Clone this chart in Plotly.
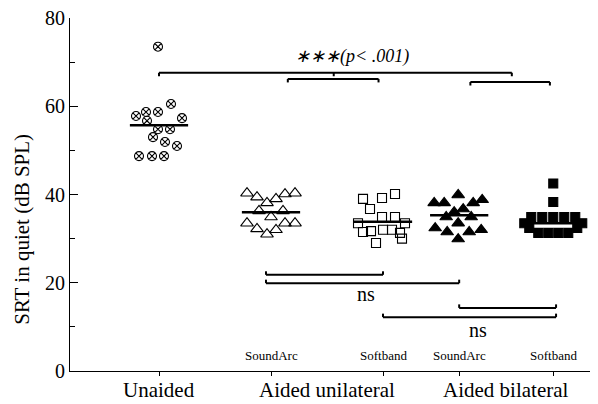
import plotly.graph_objects as go

# ---------------- data ----------------
group_names = ["Unaided", "SoundArc (unilateral)", "Softband (unilateral)",
               "SoundArc (bilateral)", "Softband (bilateral)"]
sub_labels = ["", "SoundArc", "Softband", "SoundArc", "Softband"]
category_labels = ["Unaided", "Aided unilateral", "Aided bilateral"]

unaided = [73.5, 57.8, 58.7, 58.7, 60.5, 56.7, 57.3, 54.8, 54.8, 53.0, 51.9, 51.0, 48.7, 48.7, 48.7]
soundarc_uni = [40.3, 39.4, 38.1, 39.0, 40.1, 40.3, 36.3, 36.3, 34.9, 33.5, 32.2, 31.0, 32.0, 33.5, 33.5]
softband_uni = [39.0, 39.2, 40.1, 36.7, 34.9, 34.9, 33.5, 33.5, 31.5, 31.7, 32.0, 32.0, 31.3, 29.0, 30.0]
soundarc_bil = [38.1, 38.1, 39.9, 38.1, 38.8, 36.0, 36.7, 34.9, 34.9, 33.5, 32.4, 31.5, 29.9, 31.5, 32.0]
softband_bil = [42.5, 38.3, 34.9, 34.9, 34.9, 34.9, 34.9, 33.5, 33.5, 32.4, 32.4, 31.3, 31.3, 31.3, 31.3]
group_means = [55.7, 36.0, 33.8, 35.3, 33.5]

# horizontal scatter of the points (beeswarm spread, in pixels at the reference scale)
jitter_px = [
    [-1, -23, -13, -1, 12, -12, 23, -1, 11, -6, 6, 18, -20, -7, 5],
    [-24, -14, -4, 5, 14, 24, -12, 12, 0, -24, -14, -4, 5, 14, 24],
    [-20, -1, 12, -13, -1, 12, -25, 22, -20, -12, 0, 9, 17, -7, 19],
    [-25, -15, -1, 14, 23, -5, 4, -13, 12, -1, -24, -12, -1, 10, 22],
    [0, 0, -22, -11, 0, 11, 22, -29, 29, -24, 24, -15, -5, 5, 15],
]

# ---------------- layout helpers ----------------
positions = [1.0, 2.0, 3.0, 3.68, 4.52]
px_per_unit = 112.0
series = [unaided, soundarc_uni, softband_uni, soundarc_bil, softband_bil]
symbols = ["circle-x-open", "triangle-up-open", "square-open", "triangle-up", "square"]
sizes = [9, 11, 9, 11, 9]
FONT = "Liberation Serif"

fig = go.Figure()
for name, vals, pos, jit, sym, sz in zip(group_names, series, positions, jitter_px, symbols, sizes):
    fig.add_trace(go.Scatter(
        x=[pos + j / px_per_unit for j in jit], y=vals, mode="markers", name=name,
        marker=dict(symbol=sym, size=sz, color="black", line=dict(color="black", width=1.1)),
        showlegend=False, hoverinfo="y"))

half = 0.26
for pos, m in zip(positions, group_means):
    fig.add_trace(go.Scatter(x=[pos - half, pos + half], y=[m, m], mode="lines",
                             line=dict(color="black", width=2.5), showlegend=False, hoverinfo="skip"))

# significance brackets: (x0, x1, y, tick direction)
tick = 0.8
brackets = [
    (1.0, 4.15, 67.6, -1),
    (2.15, 2.96, 66.2, -1),
    (3.78, 4.49, 65.5, -1),
    (1.955, 3.0, 21.8, 1),
    (1.955, 3.68, 19.9, 1),
    (3.68, 4.545, 14.3, 1),
    (3.0, 4.545, 12.2, 1),
]
shapes = []
for x0, x1, yb, d in brackets:
    shapes.append(dict(type="line", xref="x", yref="y", x0=x0, x1=x1, y0=yb, y1=yb,
                       line=dict(color="black", width=2)))
    for xe in (x0, x1):
        shapes.append(dict(type="line", xref="x", yref="y", x0=xe, x1=xe, y0=yb, y1=yb + d * tick,
                           line=dict(color="black", width=2)))
# centre tick on the long bracket
shapes.append(dict(type="line", xref="x", yref="y", x0=2.56, x1=2.56, y0=67.6, y1=67.6 - tick,
                   line=dict(color="black", width=2)))

annotations = [
    dict(x=2.72, y=71.3, xref="x", yref="y", text="<i>∗∗∗(p&lt; .001)</i>", showarrow=False,
         font=dict(family=FONT, size=18, color="black")),
    dict(x=2.85, y=17.5, xref="x", yref="y", text="ns", showarrow=False,
         font=dict(family=FONT, size=20, color="black")),
    dict(x=3.85, y=9.2, xref="x", yref="y", text="ns", showarrow=False,
         font=dict(family=FONT, size=20, color="black")),
    dict(x=0, xref="paper", xshift=-48, y=32, yref="y", text="SRT in quiet (dB SPL)", showarrow=False,
         textangle=-90, xanchor="center", font=dict(family=FONT, size=21, color="black")),
]
for pos, lab in zip(positions, sub_labels):
    if lab:
        annotations.append(dict(x=pos, y=3.6, xref="x", yref="y", text=lab, showarrow=False,
                                font=dict(family=FONT, size=13, color="black")))
cat_x = [positions[0], (positions[1] + positions[2]) / 2, (positions[3] + positions[4]) / 2]
for cx, lab in zip(cat_x, category_labels):
    annotations.append(dict(x=cx, y=0, xref="x", yref="paper", yanchor="top", yshift=-5,
                            text=lab, showarrow=False, font=dict(family=FONT, size=21, color="black")))

fig.update_layout(
    width=598, height=404,
    margin=dict(l=70, r=8, t=18, b=33),
    paper_bgcolor="white", plot_bgcolor="white",
    font=dict(family=FONT, color="black"),
    shapes=shapes, annotations=annotations,
    xaxis=dict(range=[0.2054, 4.848], showgrid=False, zeroline=False,
               showline=True, linecolor="black", linewidth=1,
               tickvals=positions, ticktext=["" for _ in positions],
               ticks="outside", ticklen=4, tickcolor="black"),
    yaxis=dict(range=[0, 80], showgrid=False, zeroline=False,
               showline=True, linecolor="black", linewidth=1,
               tickvals=[0, 20, 40, 60, 80], ticks="inside", ticklen=8, tickcolor="black",
               tickfont=dict(family=FONT, size=20, color="black"),
               minor=dict(tickvals=[10, 30, 50, 70], ticks="inside", ticklen=5, tickcolor="black")),
)

fig.write_html("out.html", config={"displayModeBar": False},
               post_script="document.body.style.margin='0px';")
